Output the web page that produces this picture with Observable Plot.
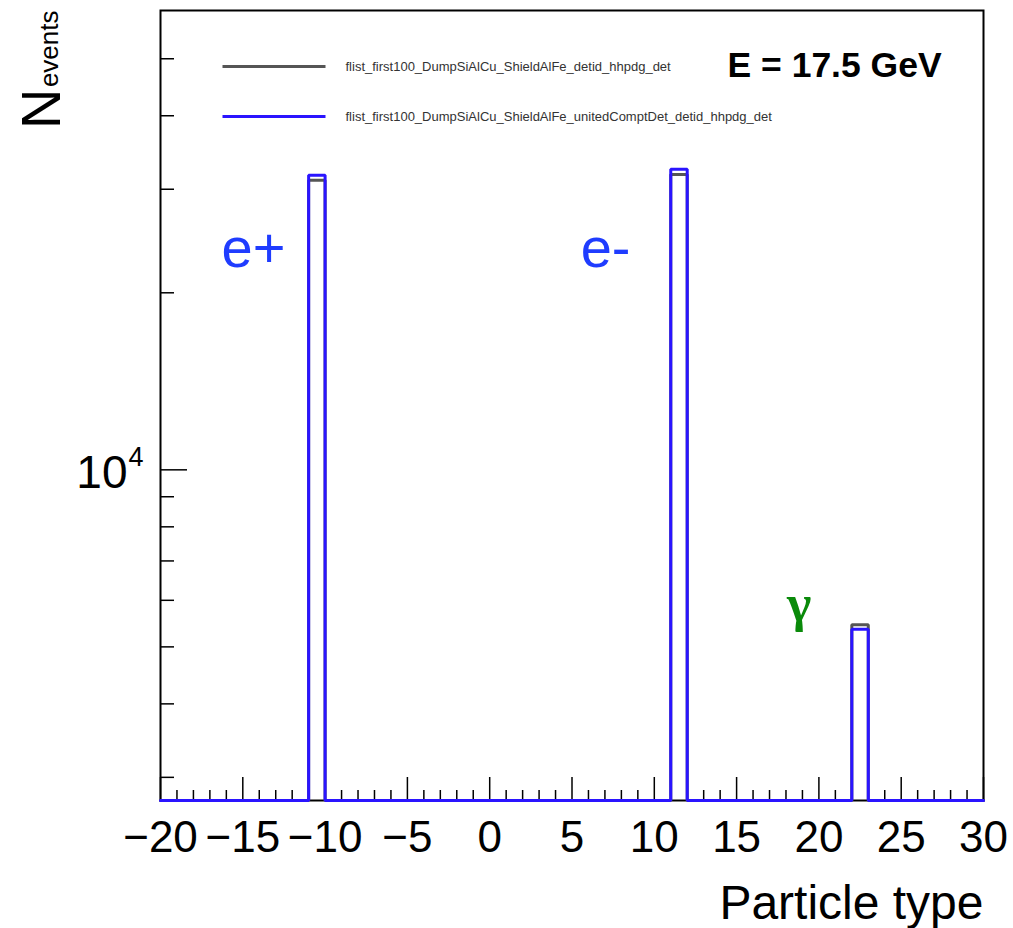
<!DOCTYPE html>
<html><head><meta charset="utf-8">
<script src="https://cdn.jsdelivr.net/npm/d3@7"></script>
<script src="https://cdn.jsdelivr.net/npm/@observablehq/plot@0.6"></script>
<style>body{margin:0;background:#fff} svg{display:block}</style>
</head><body><div id="chart"></div>
<script>
// ---- data ----
const xMajorTicks = [-20, -15, -10, -5, 0, 5, 10, 15, 20, 25, 30];
const yMajorTicks = [10000];
const yMinorTicks = [3000, 4000, 5000, 6000, 7000, 8000, 9000, 20000, 30000, 40000, 50000];
const binWidth = 1;
const binLow = [-11, 11, 22];
const countsDet = [31070, 31770, 5450];
const countsUnited = [31690, 32440, 5355];
const legendLabels = [
  "flist_first100_DumpSiAlCu_ShieldAlFe_detid_hhpdg_det",
  "flist_first100_DumpSiAlCu_ShieldAlFe_unitedComptDet_detid_hhpdg_det"
];
const particleLabels = ["e+", "e-"];
const particleX = [-14.35, 7.04];
const particleY = [23710, 23710];
const gammaLabel = ["γ"];
const gammaX = [18.8];
const gammaY = [5900];
const xDomain = [-20, 30];
const yDomain = [2740, 60400];

// ---- layout ----
const W = 1013, H = 928;
const mL = 160, mR = 30, mT = 10, mB = 128;
const plotW = W - mL - mR, plotH = H - mT - mB;
const BLUE = "#2a14ff", GRAY = "#555555", TXTBLUE = "#1f3cff", GREEN = "#0a8a0a";

const xMinorTicks = d3.range(xDomain[0], xDomain[1] + 1).filter(v => !xMajorTicks.includes(v));

function stepPoints(counts) {
  const pts = [[xDomain[0], yDomain[0]]];
  binLow.forEach((b, i) => {
    pts.push([b, yDomain[0]], [b, counts[i]], [b + binWidth, counts[i]], [b + binWidth, yDomain[0]]);
  });
  pts.push([xDomain[1], yDomain[0]]);
  return pts;
}
const fmt = d => d < 0 ? "\u2212" + (-d) : String(d);

const chart = Plot.plot({
  width: W, height: H,
  marginLeft: mL, marginRight: mR, marginTop: mT, marginBottom: mB,
  style: {fontFamily: "Liberation Sans, Arial, sans-serif", background: "white", color: "black"},
  x: {domain: xDomain, axis: null},
  y: {type: "log", domain: yDomain, axis: null},
  marks: [
    Plot.frame({stroke: "black", strokeWidth: 2}),
    // ticks
    Plot.ruleX(xMinorTicks, {x: d => d, insetTop: plotH - 10, stroke: "black", strokeWidth: 1.5}),
    Plot.ruleX(xMajorTicks, {x: d => d, insetTop: plotH - 23, stroke: "black", strokeWidth: 1.5}),
    Plot.ruleY(yMinorTicks, {y: d => d, insetRight: plotW - 14, stroke: "black", strokeWidth: 1.5}),
    Plot.ruleY(yMajorTicks, {y: d => d, insetRight: plotW - 27, stroke: "black", strokeWidth: 1.5}),
    // histograms
    Plot.line(stepPoints(countsDet), {x: d => d[0], y: d => d[1], stroke: GRAY, strokeWidth: 3, strokeLinejoin: "miter"}),
    Plot.line(stepPoints(countsUnited), {x: d => d[0], y: d => d[1], stroke: BLUE, strokeWidth: 3, strokeLinejoin: "miter"}),
    // x tick labels
    Plot.text(xMajorTicks, {x: d => d, frameAnchor: "bottom", text: fmt, lineAnchor: "top", dy: 20, fontSize: 44, fill: "black"}),
    // y tick label 10^4
    Plot.text(yMajorTicks, {y: d => d, frameAnchor: "left", text: () => "10", textAnchor: "end", dx: -33, dy: 3, fontSize: 46, fill: "black"}),
    Plot.text(yMajorTicks, {y: d => d, frameAnchor: "left", text: () => "4", textAnchor: "start", dx: -32, dy: -12, fontSize: 27, fill: "black"}),
    // axis titles
    Plot.text(["Particle type"], {frameAnchor: "bottom-right", textAnchor: "end", lineAnchor: "top", dy: 84, fontSize: 48, fill: "black"}),
    Plot.text(["events"], {frameAnchor: "top-left", rotate: -90, textAnchor: "end", lineAnchor: "middle", dx: -111, dy: 0, fontSize: 26, fill: "black"}),
    Plot.text(["N"], {frameAnchor: "top-left", rotate: -90, textAnchor: "end", lineAnchor: "middle", dx: -118, dy: 78, fontSize: 56, fill: "black"}),
    // particle labels
    Plot.text(particleLabels, {x: (d, i) => particleX[i], y: (d, i) => particleY[i], text: d => d, fontSize: 56, fill: TXTBLUE, lineAnchor: "middle"}),
    Plot.text(gammaLabel, {x: (d, i) => gammaX[i], y: (d, i) => gammaY[i], text: d => d, fontSize: 52, fontWeight: "bold", fontFamily: "Liberation Serif, serif", fill: GREEN, lineAnchor: "middle"}),
    // legend
    Plot.frame({fill: GRAY, stroke: null, insetLeft: 62, insetRight: plotW - 165, insetTop: 54.5, insetBottom: plotH - 57.5}),
    Plot.frame({fill: BLUE, stroke: null, insetLeft: 62, insetRight: plotW - 165, insetTop: 104.5, insetBottom: plotH - 107.5}),
    Plot.text([legendLabels[0]], {frameAnchor: "top-left", textAnchor: "start", lineAnchor: "middle", dx: 185, dy: 56, fontSize: 13, fill: "#333"}),
    Plot.text([legendLabels[1]], {frameAnchor: "top-left", textAnchor: "start", lineAnchor: "middle", dx: 185, dy: 106, fontSize: 13, fill: "#333"}),
    Plot.text(["E = 17.5 GeV"], {frameAnchor: "top-left", textAnchor: "start", lineAnchor: "middle", dx: 567, dy: 55, fontSize: 35.5, fontWeight: "bold", fill: "black"})
  ]
});
document.getElementById("chart").append(chart);
</script>
</body></html>
